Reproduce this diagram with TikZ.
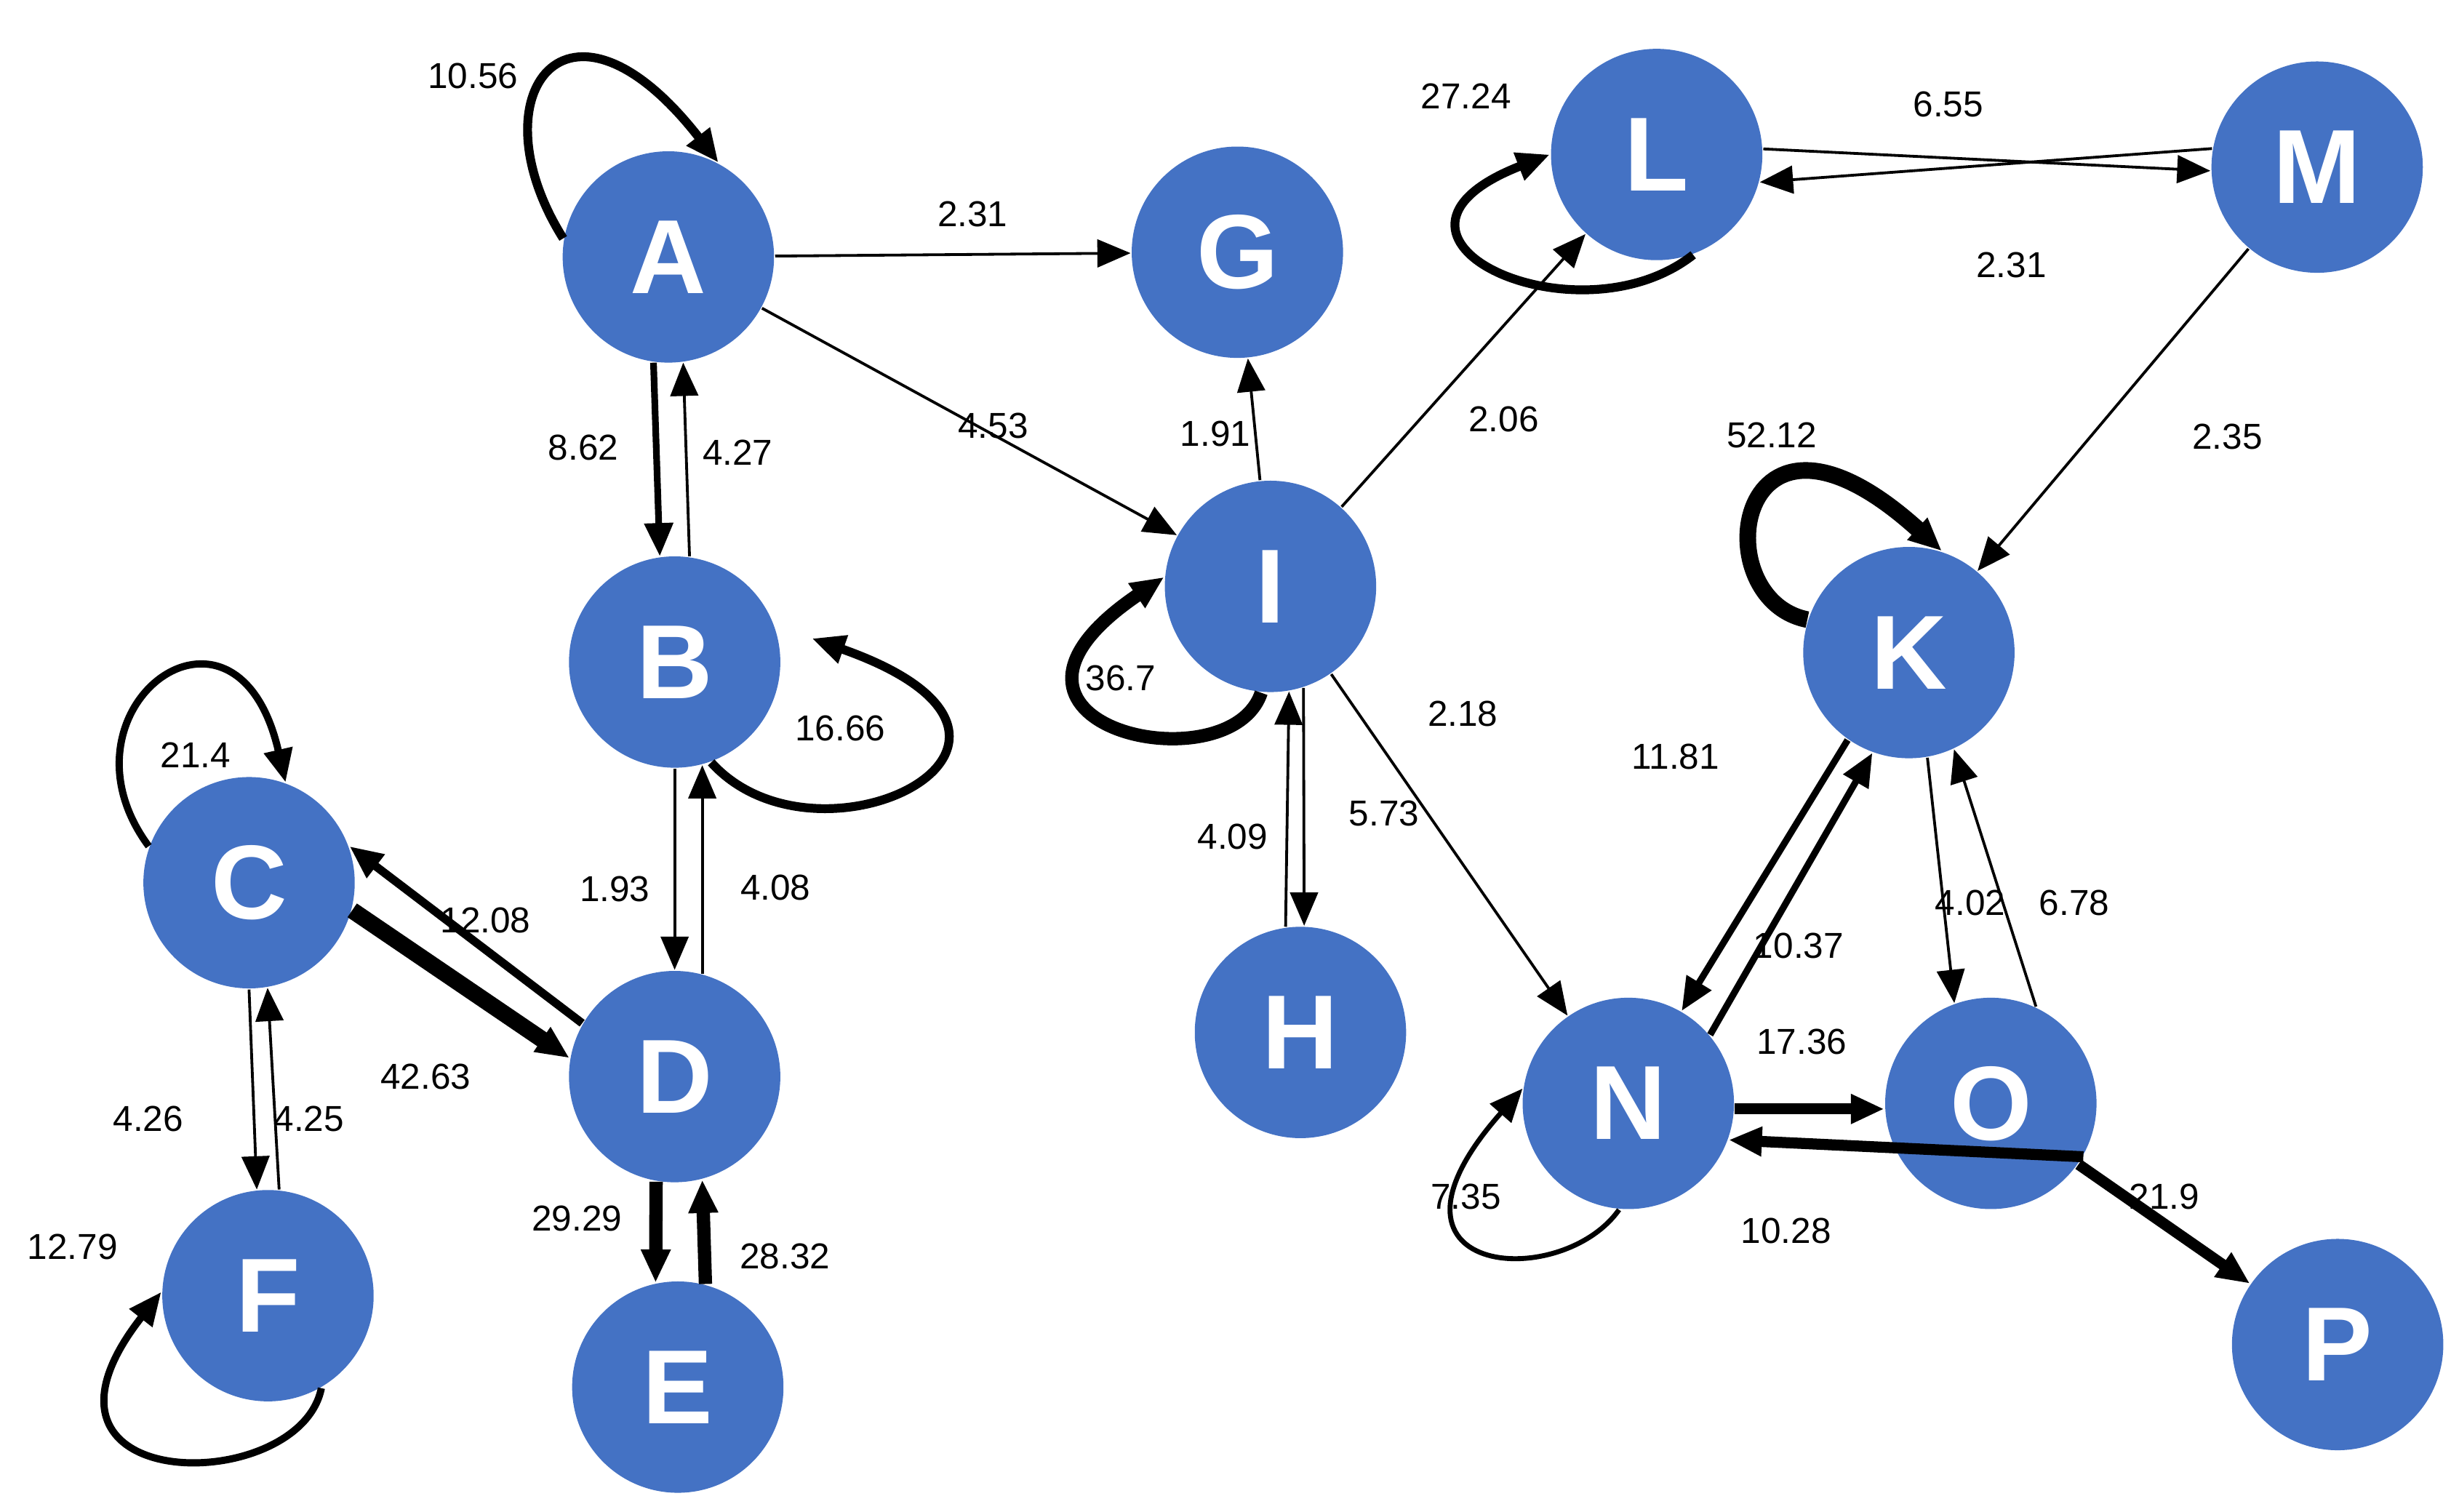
\documentclass[tikz,border=0pt]{standalone}
\usepackage{fontspec}
\setmainfont{Liberation Sans}
\usetikzlibrary{arrows.meta}
\definecolor{nb}{HTML}{4472C4}
\begin{document}
\begin{tikzpicture}[x=0.01cm,y=-0.01cm,
 v/.style={circle,fill=nb,minimum size=1.34cm,inner sep=0pt,text=white,font=\fontsize{19}{19}\selectfont\bfseries},
 e/.style={-{Triangle[length=6pt,width=5pt]},line width=#1},
 e/.default=0.5pt,
 l/.style={font=\fontsize{6.5}{7}\selectfont}]
\useasboundingbox (0,0) rectangle (1560,959);
\node[v] (A) at (424,163) {A};
\node[v] (G) at (785,160) {G};
\node[v] (B) at (428,420) {B};
\node[v] (C) at (158,560) {C};
\node[v] (D) at (428,683) {D};
\node[v] (E) at (430,880) {E};
\node[v] (F) at (170,822) {F};
\node[v] (I) at (806,372) {I};
\node[v] (H) at (825,655) {H};
\node[v] (L) at (1051,98) {L};
\node[v] (M) at (1470,106) {M};
\node[v] (K) at (1211,414) {K};
\node[v] (N) at (1033,700) {N};
\node[v] (O) at (1263,700) {O};
\node[v] (P) at (1483,853) {P};
% loops
\draw[e=1.6pt] (A.170) .. controls (300,60) and (360,-20) .. (A.62);
\draw[e=1.6pt] (B.-70) .. controls (520,560) and (700,470) .. (515,405);
\draw[e=1.3pt] (C.160) .. controls (30,450) and (150,360) .. (C.70);
\draw[e=1.3pt] (F.-60) .. controls (190,950) and (0,950) .. (F.178);
\draw[e=2.4pt] (I.-95) .. controls (780,500) and (600,460) .. (I.175);
\draw[e=1.6pt] (L.-70) .. controls (1000,220) and (850,150) .. (L.180);
\draw[e=3pt] (K.162) .. controls (1080,380) and (1100,230) .. (K.72);
\draw[e=0.9pt] (N.-95) .. controls (990,820) and (860,810) .. (N.172);
% edges
\draw[e] (A) -- (G);
\draw[e=1.2pt] (A.-98) -- (B.98);
\draw[e] (B.82) -- (A.-82);
\draw[e] (A) -- (I);
\draw[e] (B.-90) -- (D.90);
\draw[e] (D.75) -- (B.-75);
\draw[e=1.5pt] (D.150) -- (C.20);
\draw[e=3pt] (C.-15) -- (D.170);
\draw[e] (C.-90) -- (F.96);
\draw[e] (F.84) -- (C.-80);
\draw[e=2.4pt] (D.-100) -- (E.102);
\draw[e=2.4pt] (E.75) -- (D.-75);
\draw[e] (I) -- (G);
\draw[e] (I) -- (L);
\draw[e] (I) -- (N);
\draw[e] (H.98) -- (I.-80);
\draw[e] (I.-72) -- (H.88);
\draw[e] (L.3) -- (M.182);
\draw[e] (M.170) -- (L.-15);
\draw[e] (M) -- (K);
\draw[e=1.2pt] (K.-125) -- (N.60);
\draw[e=1.2pt] (N.40) -- (K.-110);
\draw[e] (K.-80) -- (O.110);
\draw[e] (O.65) -- (K.-65);
\draw[e=2pt] (N.-3) -- (O.183);
\draw[e=2pt] (O.-30) -- (N.-20);
\draw[e=2pt] (O) -- (P);
% labels
\node[l] at (300,48) {10.56};
\node[l] at (617,136) {2.31};
\node[l] at (370,284) {8.62};
\node[l] at (468,287) {4.27};
\node[l] at (630,270) {4.53};
\node[l] at (533,462) {16.66};
\node[l] at (124,479) {21.4};
\node[l] at (390,564) {1.93};
\node[l] at (492,563) {4.08};
\node[l] at (308,584) {12.08};
\node[l] at (270,683) {42.63};
\node[l] at (94,710) {4.26};
\node[l] at (196,710) {4.25};
\node[l] at (46,791) {12.79};
\node[l] at (366,773) {29.29};
\node[l] at (498,797) {28.32};
\node[l] at (771,275) {1.91};
\node[l] at (711,430) {36.7};
\node[l] at (954,266) {2.06};
\node[l] at (928,453) {2.18};
\node[l] at (782,531) {4.09};
\node[l] at (878,516) {5.73};
\node[l] at (930,61) {27.24};
\node[l] at (1236,66) {6.55};
\node[l] at (1276,168) {2.31};
\node[l] at (1413,277) {2.35};
\node[l] at (1124,276) {52.12};
\node[l] at (1063,480) {11.81};
\node[l] at (1141,600) {10.37};
\node[l] at (1250,573) {4.02};
\node[l] at (1316,573) {6.78};
\node[l] at (1143,661) {17.36};
\node[l] at (1133,781) {10.28};
\node[l] at (930,759) {7.35};
\node[l] at (1373,759) {21.9};
\end{tikzpicture}
\end{document}
